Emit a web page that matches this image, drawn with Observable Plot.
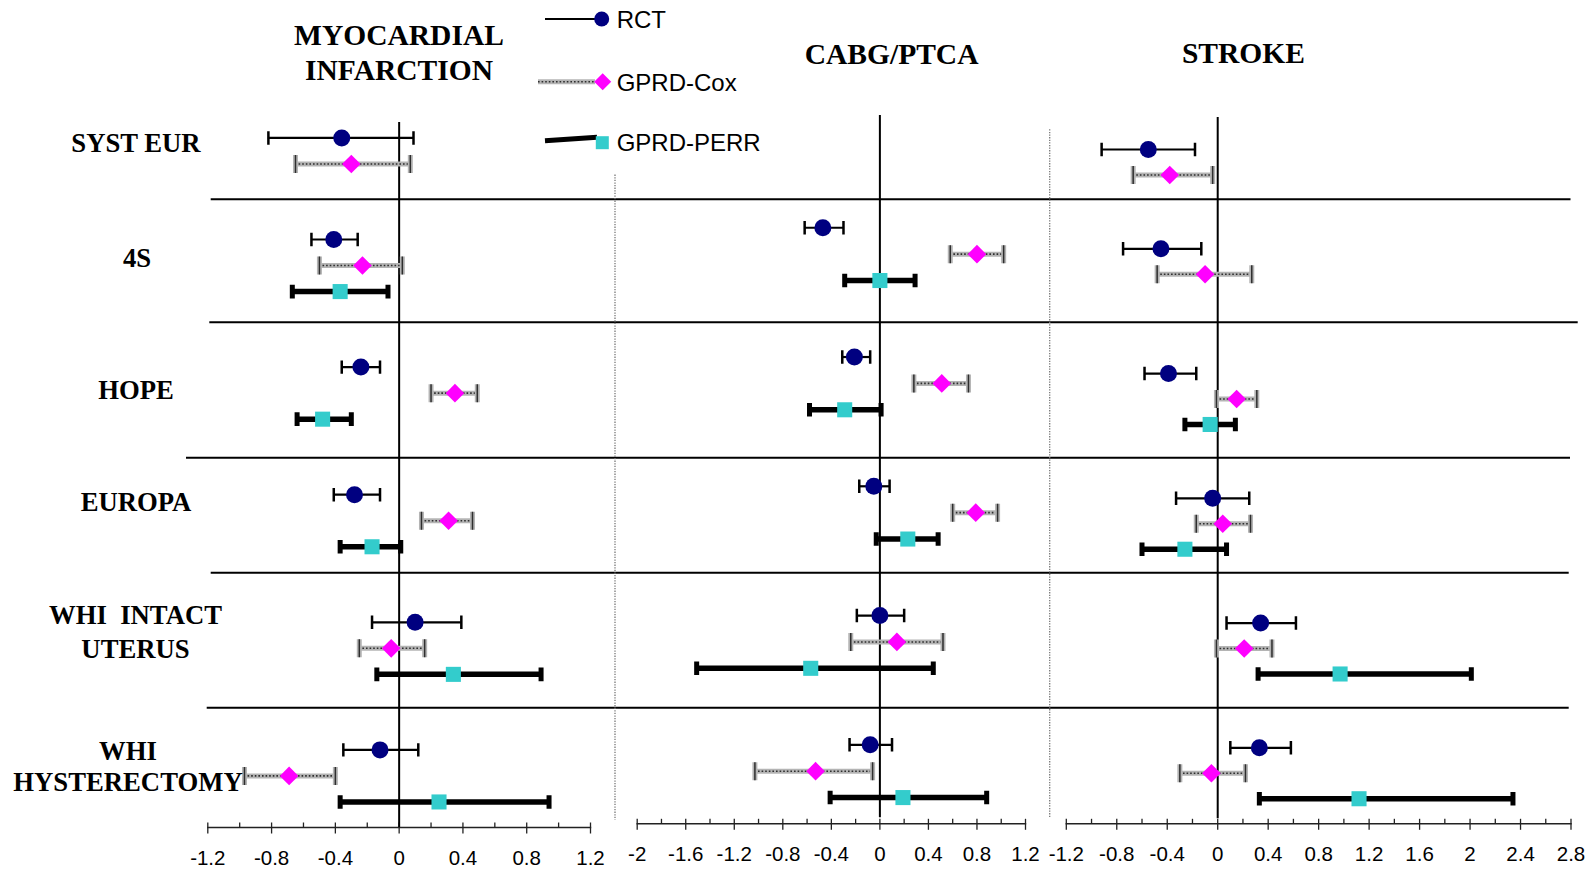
<!DOCTYPE html>
<html><head><meta charset="utf-8">
<script src="https://cdn.jsdelivr.net/npm/d3@7"></script>
<script src="https://cdn.jsdelivr.net/npm/@observablehq/plot@0.6"></script>
<style>
html,body{margin:0;padding:0;background:#fff;overflow:hidden;}
#chart{position:relative;width:1592px;height:869px;overflow:hidden;}
#chart svg{position:absolute;left:0;top:0;}
</style></head><body><div id="chart"></div>
<script>
// ---------------- data ----------------
const outcomes = ["MYOCARDIAL INFARCTION", "CABG/PTCA", "STROKE"];
const outcomeTitleLines = [["MYOCARDIAL", "INFARCTION"], ["CABG/PTCA"], ["STROKE"]];
const studies = ["SYST EUR", "4S", "HOPE", "EUROPA", "WHI INTACT UTERUS", "WHI HYSTERECTOMY"];
const studyLabelLines = [["SYST EUR"], ["4S"], ["HOPE"], ["EUROPA"], ["WHI  INTACT", "UTERUS"], ["WHI", "HYSTERECTOMY"]];
const methods = ["RCT", "GPRD-Cox", "GPRD-PERR"];

// Myocardial infarction
const miRctEst  = [-0.36, -0.41, -0.24, -0.28,  0.10, -0.12];
const miRctLo   = [-0.82, -0.55, -0.36, -0.41, -0.17, -0.35];
const miRctHi   = [ 0.09, -0.26, -0.12, -0.12,  0.39,  0.12];
const miCoxEst  = [-0.30, -0.23,  0.35,  0.31, -0.05, -0.69];
const miCoxLo   = [-0.65, -0.50,  0.20,  0.14, -0.25, -0.97];
const miCoxHi   = [ 0.07,  0.02,  0.49,  0.46,  0.16, -0.40];
const miPerrEst = [null, -0.37, -0.48, -0.17,  0.34,  0.25];
const miPerrLo  = [null, -0.67, -0.64, -0.37, -0.14, -0.37];
const miPerrHi  = [null, -0.07, -0.30,  0.01,  0.89,  0.94];

// CABG/PTCA
const cabgRctEst  = [null, -0.47, -0.21, -0.05,  0.00, -0.08];
const cabgRctLo   = [null, -0.62, -0.31, -0.17, -0.19, -0.25];
const cabgRctHi   = [null, -0.30, -0.08,  0.08,  0.20,  0.10];
const cabgCoxEst  = [null,  0.80,  0.51,  0.79,  0.14, -0.53];
const cabgCoxLo   = [null,  0.58,  0.28,  0.60, -0.24, -1.03];
const cabgCoxHi   = [null,  1.02,  0.73,  0.97,  0.52, -0.06];
const cabgPerrEst = [null,  0.00, -0.29,  0.23, -0.57,  0.19];
const cabgPerrLo  = [null, -0.29, -0.58, -0.03, -1.51, -0.41];
const cabgPerrHi  = [null,  0.29,  0.01,  0.48,  0.44,  0.88];

// Stroke
const strokeRctEst  = [-0.55, -0.45, -0.39, -0.04, 0.34, 0.33];
const strokeRctLo   = [-0.92, -0.75, -0.58, -0.33, 0.07, 0.10];
const strokeRctHi   = [-0.18, -0.13, -0.17,  0.25, 0.62, 0.58];
const strokeCoxEst  = [-0.38, -0.10,  0.15,  0.04, 0.21, -0.05];
const strokeCoxLo   = [-0.67, -0.48, -0.01, -0.17, -0.01, -0.30];
const strokeCoxHi   = [-0.04,  0.27,  0.31,  0.26, 0.43,  0.22];
const strokePerrEst = [null, null, -0.06, -0.26, 0.97, 1.12];
const strokePerrLo  = [null, null, -0.26, -0.60, 0.32, 0.33];
const strokePerrHi  = [null, null,  0.14,  0.07, 2.01, 2.34];

// tick labels
const miTicks = [-1.2, -0.8, -0.4, 0, 0.4, 0.8, 1.2];
const cabgTicks = [-2, -1.6, -1.2, -0.8, -0.4, 0, 0.4, 0.8, 1.2];
const strokeTicks = [-1.2, -0.8, -0.4, 0, 0.4, 0.8, 1.2, 1.6, 2, 2.4, 2.8];

// ---------------- layout ----------------
const W = 1592, H = 869;
const rowSlot = [1, 4.9, 9.8, 14.7, 19.6, 24.5];
const panelLayout = [
  {x0: 207.3, x1: 590,    axisY: 827,   top: 122, zeroInset: 0, ya: 111.4,  yb: 26.04},
  {x0: 636.7, x1: 1025,   axisY: 823.3, top: 115, zeroInset: 6, ya: 98,     yb: 26.38},
  {x0: 1065.8, x1: 1570.5, axisY: 823.3, top: 117, zeroInset: 5, ya: 123.55, yb: 25.46}
];
const panelData = [
  {ticks: miTicks, series: [[miRctEst, miRctLo, miRctHi], [miCoxEst, miCoxLo, miCoxHi], [miPerrEst, miPerrLo, miPerrHi]]},
  {ticks: cabgTicks, series: [[cabgRctEst, cabgRctLo, cabgRctHi], [cabgCoxEst, cabgCoxLo, cabgCoxHi], [cabgPerrEst, cabgPerrLo, cabgPerrHi]]},
  {ticks: strokeTicks, series: [[strokeRctEst, strokeRctLo, strokeRctHi], [strokeCoxEst, strokeCoxLo, strokeCoxHi], [strokePerrEst, strokePerrLo, strokePerrHi]]}
];

const vbar = {draw(ctx, size) { const h = Math.sqrt(size / Math.PI); ctx.moveTo(0, -h); ctx.lineTo(0, h); ctx.closePath(); }};
const fmt = d => String(+d.toFixed(1));
const NAVY = "#000080", MAGENTA = "#FF00FF", TEAL = "#33CCCC";
const COXBAND = "#b4b4b4", COXDOT = "#2e2e2e";

const chart = document.getElementById("chart");

// background overlay: row separators and dotted panel borders
const bg = d3.select(chart).append("svg").attr("width", W).attr("height", H);
const separators = [[199.3, 210.7, 1570.5], [322.3, 209.3, 1577.7], [457.8, 186, 1570], [572.7, 210.7, 1568.7], [707.7, 206.7, 1568.7]];
bg.selectAll("line.sep").data(separators).join("line")
  .attr("x1", d => d[1]).attr("x2", d => d[2]).attr("y1", d => d[0]).attr("y2", d => d[0])
  .attr("stroke", "#000").attr("stroke-width", 2);
const dotted = [[615, 174.6, 820], [1049.7, 129.3, 818]];
bg.selectAll("line.dot").data(dotted).join("line")
  .attr("x1", d => d[0]).attr("x2", d => d[0]).attr("y1", d => d[1]).attr("y2", d => d[2])
  .attr("stroke", "#777").attr("stroke-width", 1.3).attr("stroke-dasharray", "1.3 1.3");

// panels
panelData.forEach((pd, k) => {
  const p = panelLayout[k];
  const rows = [[], [], []];
  pd.series.forEach((s, j) => {
    studies.forEach((st, i) => {
      if (s[0][i] == null) return;
      rows[j].push({outcome: outcomes[k], study: st, method: methods[j], est: s[0][i], lo: s[1][i], hi: s[2][i], u: rowSlot[i] + j});
    });
  });
  const ticks = pd.ticks;
  const minor = ticks.slice(1).map((t, i) => (t + ticks[i]) / 2);
  const [rct, cox, perr] = rows;
  const svg = Plot.plot({
    width: W, height: H,
    marginLeft: p.x0, marginRight: W - p.x1, marginTop: p.top, marginBottom: H - p.axisY,
    x: {domain: [ticks[0], ticks[ticks.length - 1]]},
    y: {domain: [0, 30], range: [p.ya, p.ya + 30 * p.yb], axis: null},
    style: {background: "transparent", overflow: "visible", color: "black", fontFamily: "'Liberation Sans', Arial, sans-serif", fontSize: "20px"},
    marks: [
      Plot.frame({anchor: "bottom", stroke: "#222", strokeWidth: 1.4}),
      Plot.axisX({ticks: minor, tickSize: 4.5, dy: -4.5, tickFormat: () => "", stroke: "#222", strokeWidth: 1.3}),
      Plot.axisX({ticks: ticks, tickSize: 11, dy: -4.5, tickFormat: () => "", stroke: "#222", strokeWidth: 1.3}),
      Plot.axisX({ticks: ticks, tickSize: 0, tickPadding: 23, tickFormat: fmt, fontSize: 20.5, fill: "black"}),
      Plot.ruleX([0], {stroke: "black", strokeWidth: 2, insetBottom: p.zeroInset}),
      // RCT bars
      Plot.ruleY(rct, {x1: "lo", x2: "hi", y: "u", stroke: "black", strokeWidth: 2.2}),
      Plot.dot(rct, {x: "lo", y: "u", r: 6.7, symbol: vbar, fill: "none", stroke: "black", strokeWidth: 2.5}),
      Plot.dot(rct, {x: "hi", y: "u", r: 6.7, symbol: vbar, fill: "none", stroke: "black", strokeWidth: 2.5}),
      // GPRD-Cox bars (grey dotted)
      Plot.ruleY(cox, {x1: "lo", x2: "hi", y: "u", stroke: COXBAND, strokeWidth: 5}),
      Plot.ruleY(cox, {x1: "lo", x2: "hi", y: "u", stroke: COXDOT, strokeWidth: 1.6, strokeDasharray: "1.6 2"}),
      Plot.dot(cox, {x: "lo", y: "u", r: 9, symbol: vbar, fill: "none", stroke: COXBAND, strokeWidth: 5}),
      Plot.dot(cox, {x: "hi", y: "u", r: 9, symbol: vbar, fill: "none", stroke: COXBAND, strokeWidth: 5}),
      Plot.dot(cox, {x: "lo", y: "u", r: 9, symbol: vbar, fill: "none", stroke: COXDOT, strokeWidth: 1.5, strokeDasharray: "1.5 1.5"}),
      Plot.dot(cox, {x: "hi", y: "u", r: 9, symbol: vbar, fill: "none", stroke: COXDOT, strokeWidth: 1.5, strokeDasharray: "1.5 1.5"}),
      // GPRD-PERR bars (thick black)
      Plot.ruleY(perr, {x1: "lo", x2: "hi", y: "u", stroke: "black", strokeWidth: 5.5}),
      Plot.dot(perr, {x: "lo", y: "u", r: 6.8, symbol: vbar, fill: "none", stroke: "black", strokeWidth: 5}),
      Plot.dot(perr, {x: "hi", y: "u", r: 6.8, symbol: vbar, fill: "none", stroke: "black", strokeWidth: 5}),
      // markers
      Plot.dot(rct, {x: "est", y: "u", r: 8.5, symbol: "circle", fill: NAVY}),
      Plot.dot(cox, {x: "est", y: "u", r: 8.4, symbol: "diamond2", fill: MAGENTA}),
      Plot.dot(perr, {x: "est", y: "u", r: 8.5, symbol: "square", fill: TEAL})
    ]
  });
  chart.appendChild(svg);
});

// foreground overlay: titles, row labels, legend
const fg = d3.select(chart).append("svg").attr("width", W).attr("height", H);
const serif = "'Liberation Serif', 'Times New Roman', serif";
const sans = "'Liberation Sans', Arial, sans-serif";
const titlePos = [[399, [45.3, 80.3]], [891.6, [63.8]], [1243.4, [62.8]]];
outcomeTitleLines.forEach((lines, k) => {
  lines.forEach((t, m) => {
    fg.append("text").attr("x", titlePos[k][0]).attr("y", titlePos[k][1][m])
      .attr("text-anchor", "middle").attr("font-family", serif).attr("font-weight", "bold")
      .attr("font-size", 29.5).attr("fill", "#000").text(t);
  });
});
const labelPos = [[136, [151.8]], [137, [266.6]], [136, [398.5]], [136, [510.5]], [135.5, [624.1, 657.8]], [128, [759.8, 790.5]]];
studyLabelLines.forEach((lines, i) => {
  lines.forEach((t, m) => {
    fg.append("text").attr("x", labelPos[i][0]).attr("y", labelPos[i][1][m])
      .attr("text-anchor", "middle").attr("font-family", serif).attr("font-weight", "bold")
      .attr("font-size", 26.7).attr("fill", "#000").style("white-space", "pre").text(t);
  });
});
// legend
const lg = fg.append("g");
lg.append("line").attr("x1", 545).attr("x2", 595).attr("y1", 19).attr("y2", 19).attr("stroke", "#000").attr("stroke-width", 2);
lg.append("circle").attr("cx", 601.7).attr("cy", 19).attr("r", 7.5).attr("fill", NAVY);
lg.append("line").attr("x1", 538).attr("x2", 595).attr("y1", 81.7).attr("y2", 81.7).attr("stroke", COXBAND).attr("stroke-width", 5);
lg.append("line").attr("x1", 538).attr("x2", 595).attr("y1", 81.7).attr("y2", 81.7).attr("stroke", COXDOT).attr("stroke-width", 1.6).attr("stroke-dasharray", "1.6 2");
lg.append("path").attr("d", "M602.7,73.2L611.2,81.7L602.7,90.2L594.2,81.7Z").attr("fill", MAGENTA);
lg.append("line").attr("x1", 545).attr("x2", 597).attr("y1", 140.7).attr("y2", 137.3).attr("stroke", "#000").attr("stroke-width", 5);
lg.append("rect").attr("x", 595.8).attr("y", 136.2).attr("width", 13).attr("height", 13).attr("fill", TEAL);
methods.forEach((m, j) => {
  lg.append("text").attr("x", 616.7).attr("y", [27.5, 90.5, 151][j])
    .attr("font-family", sans).attr("font-size", 24).attr("fill", "#000").text(m);
});
</script>
</body></html>
